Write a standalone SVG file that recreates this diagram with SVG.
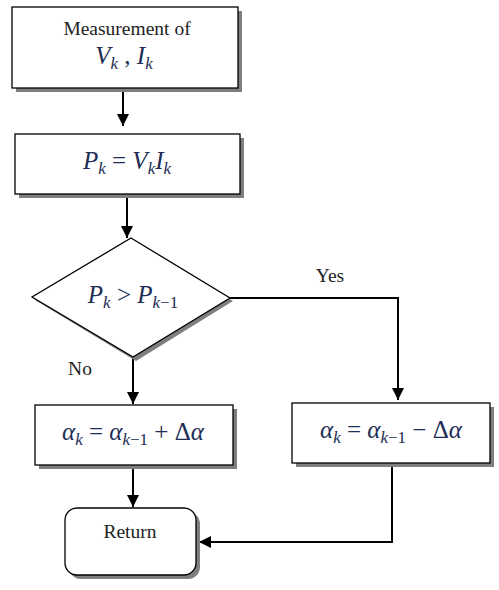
<svg xmlns="http://www.w3.org/2000/svg" width="499" height="590" viewBox="0 0 499 590">
<style>
.box{fill:#fff;stroke:#000;stroke-width:1.3}
.sh{fill:#7f7f7f}
.lbl{font-family:"Liberation Serif",serif;font-size:19.5px;fill:#222}
.m{font-family:"Liberation Serif",serif;font-style:italic;font-size:25px;fill:#1d2d55}
.s{font-size:17px}
.up{font-style:normal}
.c{fill:none;stroke:#000;stroke-width:2}
</style>
<defs>
<marker id="ah" markerUnits="userSpaceOnUse" markerWidth="14" markerHeight="14" refX="12" refY="6" orient="auto">
<path d="M0,0 L12,6 L0,12 Z" fill="#000"/>
</marker>
</defs>
<rect width="499" height="590" fill="#fff"/>
<g id="connectors">
<line class="c" x1="123" y1="88" x2="123" y2="126" marker-end="url(#ah)"/>
<line class="c" x1="127" y1="194" x2="127" y2="238" marker-end="url(#ah)"/>
<polyline class="c" points="230,298 398,298 398,400" marker-end="url(#ah)"/>
<line class="c" x1="133" y1="358" x2="133" y2="404" marker-end="url(#ah)"/>
<line class="c" x1="133" y1="465" x2="133" y2="507" marker-end="url(#ah)"/>
<polyline class="c" points="392,463 392,542 199,542" marker-end="url(#ah)"/>
<text class="lbl" x="330" y="282" text-anchor="middle">Yes</text>
<text class="lbl" x="80" y="375" text-anchor="middle">No</text>
</g>
<g id="measure">
<rect class="sh" x="16" y="11" width="226" height="81"/>
<rect class="box" x="12" y="7" width="226" height="81"/>
<text class="lbl" x="127" y="35" text-anchor="middle">Measurement of</text>
<text class="m" x="124" y="64" text-anchor="middle">V<tspan class="s" dy="5">k</tspan><tspan dy="-5" class="up"> , </tspan>I<tspan class="s" dy="5">k</tspan></text>
</g>
<g id="power">
<rect class="sh" x="19" y="138" width="225" height="60"/>
<rect class="box" x="15" y="134" width="225" height="60"/>
<text class="m" x="127" y="169" text-anchor="middle">P<tspan class="s" dy="5">k</tspan><tspan dy="-5" class="up"> = </tspan>V<tspan class="s" dy="5">k</tspan><tspan dy="-5">I</tspan><tspan class="s" dy="5">k</tspan></text>
</g>
<g id="decision">
<polygon class="sh" points="134,241 233,301 136,361 35,300"/>
<polygon class="box" points="131,238 230,298 133,357 32,297"/>
<text class="m" x="133" y="303" text-anchor="middle">P<tspan class="s" dy="5">k</tspan><tspan dy="-5" class="up"> &gt; </tspan>P<tspan class="s" dy="5">k<tspan class="up">−1</tspan></tspan></text>
</g>
<g id="increase">
<rect class="sh" x="39" y="409" width="198" height="60"/>
<rect class="box" x="35" y="405" width="198" height="60"/>
<text class="m" x="133" y="440" text-anchor="middle">α<tspan class="s" dy="5">k</tspan><tspan dy="-5" class="up"> = </tspan>α<tspan class="s" dy="5">k<tspan class="up">−1</tspan></tspan><tspan dy="-5" class="up"> + Δ</tspan>α</text>
</g>
<g id="decrease">
<rect class="sh" x="296" y="407" width="198" height="60"/>
<rect class="box" x="292" y="403" width="198" height="60"/>
<text class="m" x="391" y="438" text-anchor="middle">α<tspan class="s" dy="5">k</tspan><tspan dy="-5" class="up"> = </tspan>α<tspan class="s" dy="5">k<tspan class="up">−1</tspan></tspan><tspan dy="-5" class="up"> − Δ</tspan>α</text>
</g>
<g id="return">
<rect class="sh" x="69" y="512" width="131" height="67" rx="12"/>
<rect class="box" x="65" y="508" width="131" height="67" rx="12"/>
<text class="lbl" x="130" y="538" text-anchor="middle">Return</text>
</g>
</svg>
